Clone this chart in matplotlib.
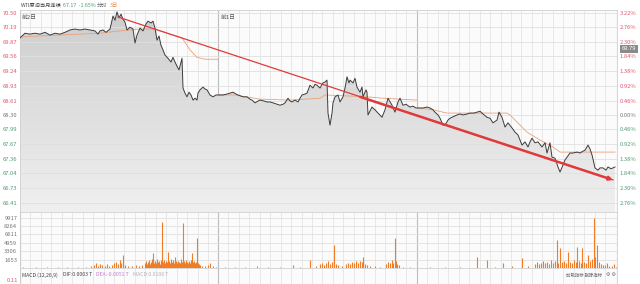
import numpy as np
import matplotlib
matplotlib.use('Agg')
import matplotlib.pyplot as plt
from matplotlib.patches import Polygon
from matplotlib.colors import LinearSegmentedColormap

plt.rcParams['font.family'] = ['Noto Sans CJK SC', 'DejaVu Sans']

# time axis: 0..597, three sessions
day_starts = [0, 198, 397]
t_end = 597

# price (minute line)
price_t = [0, 5, 10, 15, 20, 25, 30, 35, 40, 45, 50, 55, 60, 65, 70, 75, 78, 80, 83, 86,
           90, 93, 95, 97, 99, 101, 103, 105, 107, 110, 113, 115, 117, 120, 123, 126, 128, 131, 133, 135,
           137, 139, 141, 143, 145, 148, 151, 153, 155, 157, 159, 161, 162, 163, 165, 167, 169, 171, 173, 175,
           177, 178, 180, 183, 185, 187, 190, 193, 196,
           198, 203, 207, 210, 213, 216, 218, 223, 227, 230, 232, 235, 238, 240, 244, 247, 250, 253, 257, 260,
           263, 265, 268, 270, 272, 275, 278, 280, 282, 285, 287, 290, 293, 295, 297, 300, 303, 305, 307, 308,
           310, 312, 313, 315, 318, 320, 323, 325, 327, 329, 330, 333, 335, 337, 340, 342, 343, 346, 347, 348,
           352, 355, 358, 362, 365, 368, 372, 375, 378, 380, 383, 386, 390, 393, 396,
           399, 403, 407, 410, 413, 415, 418, 420, 423, 425, 428, 430, 432, 435, 437, 440, 443, 447, 450, 454,
           457, 460, 463, 467, 470, 473, 477, 479, 482, 485, 488, 492, 495, 498, 500, 502, 505, 508, 510, 512,
           515, 518, 522, 525, 527, 530, 532, 535, 538, 540, 543, 545, 547, 550, 553, 557, 560, 563, 565, 568,
           570, 572, 575, 578, 580, 583, 586, 588, 591, 593, 595]
price_v = [69.96, 70.06, 70.04, 70.06, 70.04, 70.08, 70.02, 70.06, 70.04, 70.08, 70.13, 70.15, 70.13, 70.15, 70.13, 70.11, 70.04, 70.11, 70.13, 70.08,
           70.15, 70.43, 70.34, 70.52, 70.39, 70.47, 70.36, 70.30, 70.13, 70.19, 70.15, 69.85, 70.02, 70.17, 70.11, 70.26, 70.32, 70.28, 70.32, 70.17,
           69.91, 70.00, 69.80, 69.70, 69.59, 69.52, 69.44, 69.54, 69.44, 69.35, 69.27, 69.44, 69.52, 68.88, 68.77, 68.69, 68.79, 68.73, 68.62, 68.66,
           68.62, 68.77, 68.84, 68.90, 68.86, 68.84, 68.73, 68.69, 68.73,
           68.73, 68.73, 68.75, 68.77, 68.79, 68.75, 68.73, 68.69, 68.69, 68.64, 68.62, 68.56, 68.60, 68.62, 68.60, 68.58, 68.58, 68.56, 68.53, 68.51,
           68.53, 68.56, 68.66, 68.60, 68.58, 68.62, 68.58, 68.66, 68.73, 68.75, 68.77, 68.94, 68.88, 68.96, 68.94, 68.88, 68.99, 69.01, 69.05, 68.34,
           68.08, 68.34, 68.56, 68.69, 68.73, 68.58, 68.69, 68.88, 69.12, 68.99, 69.05, 68.99, 69.09, 68.90, 68.79, 68.90, 68.69, 68.84, 68.79, 68.30,
           68.47, 68.41, 68.34, 68.25, 68.41, 68.66, 68.51, 68.36, 68.58, 68.66, 68.51, 68.53, 68.47, 68.49, 68.45,
           68.45, 68.45, 68.47, 68.45, 68.41, 68.36, 68.30, 68.23, 68.08, 68.08, 68.19, 68.23, 68.25, 68.28, 68.30, 68.32, 68.30, 68.32, 68.34, 68.34,
           68.36, 68.38, 68.32, 68.25, 68.23, 68.13, 68.19, 68.36, 68.25, 68.04, 68.13, 68.02, 67.93, 67.87, 67.76, 67.65, 67.72, 67.61, 67.72, 67.80,
           67.70, 67.72, 67.61, 67.70, 67.48, 67.70, 67.39, 67.37, 67.18, 67.07, 67.22, 67.33, 67.39, 67.48, 67.48, 67.50, 67.48, 67.52, 67.54, 67.65,
           67.57, 67.44, 67.16, 67.11, 67.16, 67.16, 67.11, 67.18, 67.14, 67.16, 67.18]

# average price line, one per session
avg1_t = [0, 40, 80, 100, 120, 135, 150, 162, 170, 177, 185, 198]
avg1_v = [69.98, 70.02, 70.06, 70.11, 70.15, 70.15, 70.04, 69.96, 69.70, 69.54, 69.50, 69.50]
avg2_t = [198, 215, 240, 270, 300, 305, 327, 347, 363, 397]
avg2_v = [68.73, 68.73, 68.64, 68.62, 68.66, 68.73, 68.71, 68.69, 68.66, 68.62]
avg3_t = [398, 413, 427, 440, 487, 490, 507, 520, 533, 540, 595]
avg3_v = [68.45, 68.41, 68.34, 68.34, 68.34, 68.30, 67.93, 67.76, 67.61, 67.50, 67.50]

# hand drawn trend line (thin from the top, thick towards the arrow)
trend_t = [98, 593]
trend_v = [70.41, 66.90]
trend_bold_t = [340, 593]
trend_bold_v = [68.69, 66.90]

# volume bars
vol_t = [3, 9, 16, 27, 38, 47, 58, 66, 71, 74, 76, 78, 80, 82, 85, 87, 89, 92, 94, 96,
         98, 100, 101, 103, 105, 108, 112, 116, 119, 122, 125, 126, 127, 128, 129, 130, 131, 132, 133, 134,
         135, 136, 137, 138, 139, 140, 141, 142, 143, 144, 145, 146, 147, 148, 149, 150, 151, 152, 153, 154,
         155, 156, 157, 158, 159, 160, 161, 162, 163, 164, 165, 166, 167, 168, 169, 170, 171, 172, 173, 174,
         175, 176, 177, 178, 179, 180, 182, 185, 188, 190, 193, 196,
         205, 215, 225, 237, 248, 260, 273, 280, 290, 296, 300, 302, 304, 306, 308, 310, 312, 314, 316, 318,
         322, 326, 328, 330, 332, 334, 336, 338, 340, 342, 343, 345, 347, 350, 355, 360, 366, 368, 370, 372,
         373, 375, 376, 377, 379, 383, 390,
         410, 425, 440, 457, 467, 475, 483, 492, 502, 508, 515, 517, 519, 521, 523, 525, 527, 529, 531, 533,
         535, 537, 538, 540, 542, 544, 546, 548, 550, 552, 554, 556, 557, 559, 561, 562, 564, 566, 568, 570,
         572, 574, 575, 577, 579, 581, 583, 585, 587, 589, 592, 594, 596]
vol_v = [100, 80, 150, 100, 200, 120, 150, 250, 300, 600, 900, 400, 700, 500, 400, 800, 300, 500, 900, 1200,
         700, 1600, 900, 2500, 600, 300, 400, 500, 300, 600, 900, 1300, 700, 1100, 1500, 800, 1200, 1800, 2950, 1000,
         1400, 900, 1700, 1100, 1300, 800, 1600, 9070, 1200, 1500, 900, 1300, 1100, 3150, 1400, 1000, 1700, 1200, 1500, 900,
         2170, 1300, 1000, 1400, 1200, 900, 1800, 1100, 8870, 1400, 1000, 1600, 1200, 900, 1300, 1000, 1500, 2950, 1100, 1300,
         900, 1200, 5900, 1000, 700, 600, 400, 300, 500, 990, 300, 200,
         150, 100, 200, 300, 150, 200, 600, 200, 1580, 300, 700, 1000, 600, 900, 1300, 800, 1100, 4540, 700, 500,
         300, 700, 1000, 800, 1200, 900, 1400, 1000, 1300, 1100, 2170, 800, 600, 400, 300, 200, 700, 1200, 1000, 1500,
         900, 5900, 1300, 800, 500, 200, 150,
         100, 150, 100, 2170, 1580, 200, 990, 300, 1970, 400, 800, 1200, 700, 1000, 1400, 900, 1200, 800, 1500, 1000,
         1300, 5520, 900, 3940, 1100, 1400, 900, 3150, 1200, 1000, 1500, 1100, 4140, 1300, 900, 3940, 1200, 1000, 2560, 1300,
         1700, 9860, 2200, 4540, 1200, 800, 600, 500, 990, 400, 300, 800, 200]

# axis labels
price_ticks = [70.50, 70.19, 69.87, 69.56, 69.24, 68.93, 68.61, 68.30, 67.99, 67.67, 67.36, 67.04, 66.73, 66.41]
pct_labels = ['3.22%', '2.76%', '2.30%', '1.84%', '1.38%', '0.92%', '0.46%', '0.00%',
              '0.46%', '0.92%', '1.38%', '1.84%', '2.30%', '2.76%']
base_price = 68.30
vol_ticks = [1653, 3306, 4959, 6611, 8264, 9917]

UP = '#e2586c'
DOWN = '#4f9c72'
GRID = '#e0e0e0'
DAYLINE = '#bdbdbd'
FS = 4.2

fig = plt.figure(figsize=(6.4, 2.84), dpi=100)
fig.patch.set_facecolor('white')
L, R = 20 / 640, 617 / 640
ax = fig.add_axes([L, 1 - 212 / 284, R - L, 202 / 284])
axv = fig.add_axes([L, 1 - 268 / 284, R - L, 56 / 284])
axm = fig.add_axes([L, 0, R - L, 16 / 284])

ymin, ymax = 66.21, 70.56


def vgrid(a):
    step = 198.5 / 19
    for d in day_starts:
        for k in range(1, 19):
            a.axvline(d + k * step, color=GRID, lw=0.5, zorder=0)
        a.axvline(d, color=DAYLINE, lw=0.8, zorder=0)
    a.axvline(t_end, color=DAYLINE, lw=0.8, zorder=0)


for a in (ax, axv, axm):
    a.set_facecolor('#fbfbfb')
    a.set_xlim(0, t_end)
    a.set_xticks([])
    for s in a.spines.values():
        s.set_color('#d0d0d0')
        s.set_linewidth(0.6)
    vgrid(a)

# main price panel
ax.set_ylim(ymin, ymax)
ax.set_yticks(price_ticks)
ax.set_yticklabels(['%.2f' % p for p in price_ticks], fontsize=FS)
ax.tick_params(axis='y', length=0, pad=2)
for lab, p in zip(ax.get_yticklabels(), price_ticks):
    lab.set_color(UP if p > base_price else (DOWN if p < base_price else '#777777'))
ax.grid(axis='y', color=GRID, lw=0.6, zorder=0)

verts = [(price_t[0], ymin)] + list(zip(price_t, price_v)) + [(price_t[-1], ymin)]
clip = Polygon(verts, closed=True, facecolor='none', edgecolor='none')
ax.add_patch(clip)
grad = np.linspace(0, 1, 256).reshape(-1, 1)
cmap = LinearSegmentedColormap.from_list('fill', ['#f0f0f0', '#cdcdcd'])
im = ax.imshow(grad, cmap=cmap, aspect='auto', extent=[0, t_end, ymin, ymax],
               origin='lower', zorder=1)
im.set_clip_path(clip)

for at, av in ((avg1_t, avg1_v), (avg2_t, avg2_v), (avg3_t, avg3_v)):
    ax.plot(at, av, color='#e8a27a', lw=0.6, zorder=2)
ax.plot(price_t, price_v, color='#3c3c3c', lw=0.7, zorder=3)

ax.plot(trend_t, trend_v, color='#e03a3a', lw=0.9, zorder=4)
ax.annotate('', xy=(trend_bold_t[1], trend_bold_v[1]), xytext=(trend_bold_t[0], trend_bold_v[0]),
            arrowprops=dict(arrowstyle='-|>', color='#e03a3a', lw=1.8,
                            mutation_scale=5, shrinkA=0, shrinkB=0), zorder=5)

ax2 = ax.twinx()
ax2.set_ylim(ymin, ymax)
ax2.set_yticks(price_ticks)
ax2.set_yticklabels(pct_labels, fontsize=FS)
ax2.tick_params(axis='y', length=0, pad=2)
for lab, p in zip(ax2.get_yticklabels(), price_ticks):
    lab.set_color(UP if p > base_price else (DOWN if p < base_price else '#777777'))
for s in ax2.spines.values():
    s.set_visible(False)

ax.text(2, 70.46, '前2日', fontsize=FS, color='#555555', va='top', zorder=6)
ax.text(201, 70.46, '前1日', fontsize=FS, color='#555555', va='top', zorder=6)

# current price tag at right
fig.text(629 / 640, 1 - 49 / 284, '69.79', fontsize=FS, color='white', ha='center', va='center',
         bbox=dict(boxstyle='square,pad=0.25', fc='#8a8a8a', ec='none'))

# header
HF = 3.8
fig.text(21 / 640, 1 - 5.5 / 284, 'WTI原油当月连续', fontsize=HF, color='#444444', va='center')
fig.text(63 / 640, 1 - 5.5 / 284, '67.17  -1.65%', fontsize=HF, color=DOWN, va='center')
fig.text(97 / 640, 1 - 5.5 / 284, '分时', fontsize=HF, color='#666666', va='center')
fig.text(110 / 640, 1 - 5.5 / 284, '3日', fontsize=HF, color='#f08a3c', va='center')

# volume panel
axv.vlines(vol_t, 0, vol_v, color='#f07d25', lw=0.8, zorder=3)
axv.set_ylim(0, 11040)
axv.set_yticks(vol_ticks)
axv.set_yticklabels([str(v) for v in vol_ticks], fontsize=FS, color='#777777')
axv.tick_params(axis='y', length=0, pad=2)
axv.grid(axis='y', color=GRID, lw=0.6, zorder=0)

# macd strip
MF = 3.7
axm.set_yticks([])
axm.set_ylim(0, 1)
y_m = 1 - 275 / 284
fig.text(22 / 640, y_m, 'MACD (12,26,9)', fontsize=MF, color='#444444', va='center')
fig.text(63 / 640, y_m, 'DIF:0.0003 T', fontsize=MF, color='#444444', va='center')
fig.text(96 / 640, y_m, 'DEA:-0.0051 T', fontsize=MF, color='#c77ad8', va='center')
fig.text(133 / 640, y_m, 'MACD:0.0108 T', fontsize=MF, color='#b5b5b5', va='center')
fig.text(18 / 640, 1 - 280 / 284, '0.11', fontsize=FS, color=UP, va='center', ha='right')
fig.text(566 / 640, y_m, '加载指标 删除指标', fontsize=3.2, color='#666666', va='center')
fig.text(616 / 640, y_m, '⚙ ⚙', fontsize=3.6, color='#666666', va='center', ha='right')

fig.savefig('out.png', dpi=100, facecolor=fig.get_facecolor())
